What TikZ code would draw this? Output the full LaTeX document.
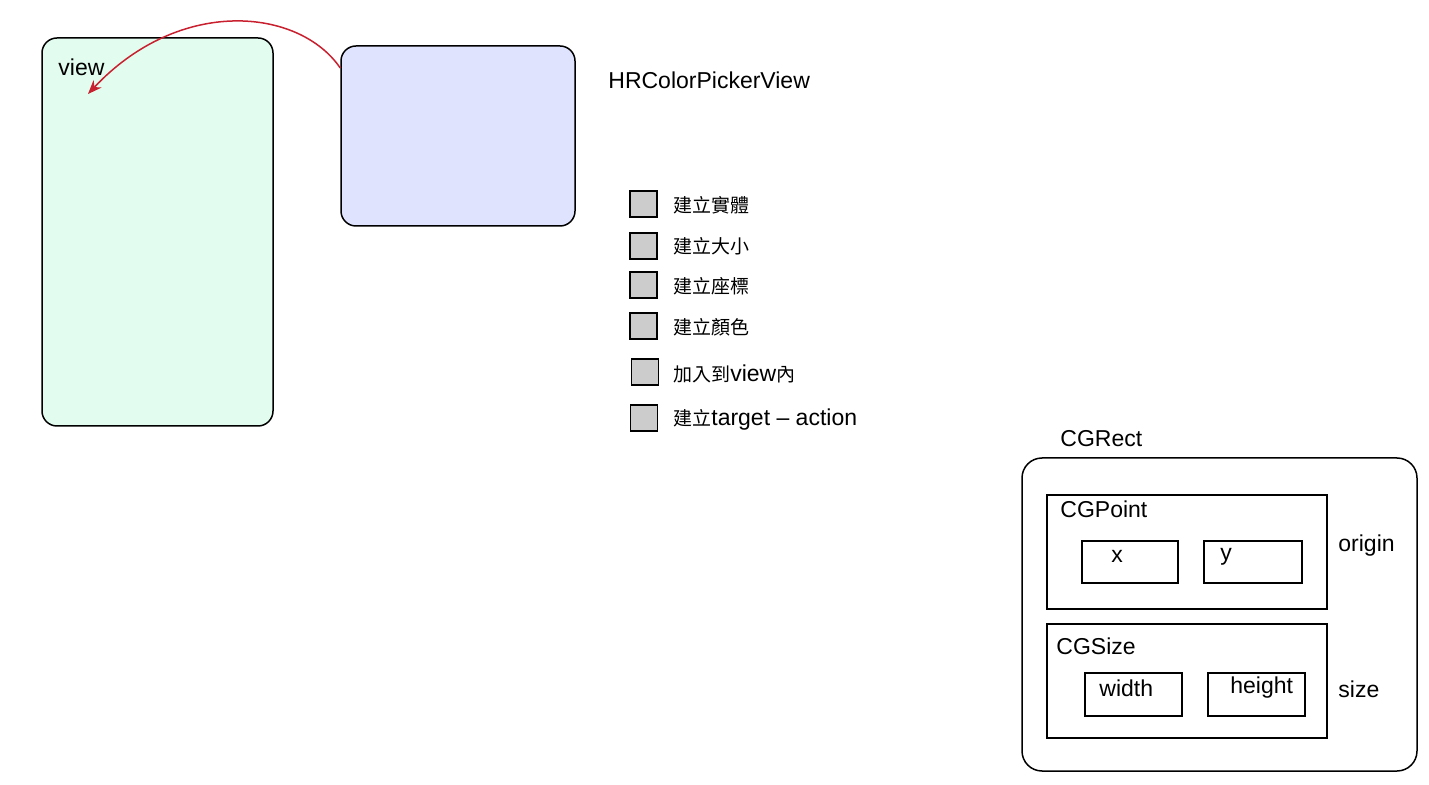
\documentclass[tikz,border=0pt]{standalone}
\usepackage{fontspec}
\setmainfont{Liberation Sans}
\newfontfamily\cjk[Scale=0.825]{Noto Sans CJK TC}
\usetikzlibrary{arrows.meta}
\definecolor{viewgreen}{HTML}{E2FCEF}
\definecolor{pickerblue}{HTML}{E0E3FD}
\definecolor{linkred}{HTML}{C8202E}
\definecolor{tickgray}{HTML}{CCCCCC}
\tikzset{
  box/.style={draw, line width=0.75pt, inner sep=0pt},
  tick/.style={box, fill=tickgray, minimum width=13.5pt, minimum height=13pt},
  lbl/.style={anchor=west, inner sep=0pt}
}
\begin{document}
\begin{tikzpicture}[x=0.5pt,y=-0.5pt,every node/.style={font=\fontsize{11.5}{13}\selectfont}]
\useasboundingbox (0,0) rectangle (1429,785);

\node[box, fill=viewgreen, rounded corners=7.5pt, minimum width=115.5pt, minimum height=194pt] (view) at (157.5,232) {};
\node[lbl] (viewname) at (58,67) {view};
\node[box, fill=pickerblue, rounded corners=7.5pt, minimum width=117pt, minimum height=90pt] (picker) at (458,136) {};
\node[lbl] (pickername) at (608,80) {HRColorPickerView};

\coordinate (drop) at (88,94);
\draw[linkred, line width=0.75pt, -{Stealth[length=7pt,width=5.5pt]}] (picker.150) .. controls +(-41,-60) and +(92,-98) .. (drop);

\node[tick] (t1) at (643.5,204) {};
\node[tick] (t2) at (643.5,246) {};
\node[tick] (t3) at (643.5,285) {};
\node[tick] (t4) at (643.5,326) {};
\node[tick] (t5) at (645,372) {};
\node[tick] (t6) at (644,418) {};
\node[lbl] (s1) at (673,205) {\cjk 建立實體};
\node[lbl] (s2) at (673,246) {\cjk 建立大小};
\node[lbl] (s3) at (673,286) {\cjk 建立座標};
\node[lbl] (s4) at (673,327) {\cjk 建立顏色};
\node[lbl] (s5) at (673,374) {{\cjk 加入到}view{\cjk 內}};
\node[lbl] (s6) at (673,420) {{\cjk 建立}target – action};

\node[lbl] (rectname) at (1060,439) {CGRect};
\node[box, rounded corners=10pt, minimum width=197.5pt, minimum height=156.5pt] (rect) at (1219.5,614.5) {};
\node[box, minimum width=140pt, minimum height=57pt] (point) at (1187,552) {};
\node[lbl] (pointname) at (1060,509) {CGPoint};
\node[box, minimum width=48pt, minimum height=21pt] (xbox) at (1130,562) {};
\node[box, minimum width=49pt, minimum height=21pt] (ybox) at (1253,562) {};
\node[lbl] (xname) at (1111,556) {x};
\node[lbl] (yname) at (1220,557) {y};
\node[lbl] (origin) at (1338,546) {origin};
\node[box, minimum width=140pt, minimum height=57pt] (size) at (1187,681) {};
\node[lbl] (sizename) at (1056,646) {CGSize};
\node[box, minimum width=48.5pt, minimum height=21.5pt] (wbox) at (1133.5,694.5) {};
\node[box, minimum width=48.5pt, minimum height=21.5pt] (hbox) at (1256.5,694.5) {};
\node[lbl] (wname) at (1099,688) {width};
\node[lbl] (hname) at (1230,688) {height};
\node[lbl] (sizelbl) at (1338,689) {size};
\end{tikzpicture}
\end{document}
